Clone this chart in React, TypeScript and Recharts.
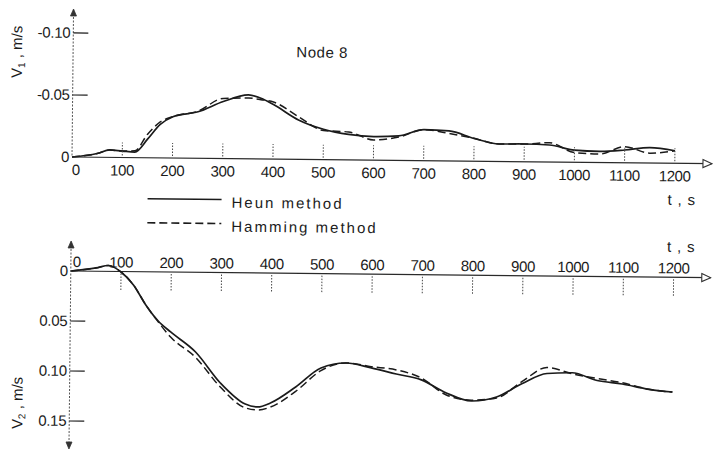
import React from 'react';
import { LineChart, Line, XAxis, YAxis, ReferenceLine, ReferenceDot, Legend } from 'recharts';

// time, s
const times = [0, 50, 75, 100, 125, 150, 175, 200, 250, 300, 350, 375, 400, 450, 500, 550, 600, 650, 700, 750, 800, 850, 900, 950, 1000, 1050, 1100, 1150, 1200];
// V1, m/s (Node 8)
const heunV1 = [0, -0.003, -0.006, -0.0052, -0.0045, -0.015, -0.027, -0.0333, -0.0375, -0.046, -0.0515, -0.049, -0.044, -0.0318, -0.0245, -0.0205, -0.019, -0.0198, -0.025, -0.0242, -0.0184, -0.0141, -0.0143, -0.0137, -0.0098, -0.009, -0.0103, -0.0125, -0.0101];
const hammingV1 = [0, -0.003, -0.006, -0.0052, -0.0055, -0.019, -0.029, -0.0334, -0.038, -0.0485, -0.049, -0.0478, -0.046, -0.0344, -0.0235, -0.0225, -0.0163, -0.0188, -0.025, -0.0222, -0.0184, -0.0141, -0.0143, -0.0155, -0.0078, -0.0068, -0.013, -0.008, -0.0101];
// V2, m/s
const heunV2 = [0, -0.0033, -0.0059, 0.0005, 0.0133, 0.0332, 0.0491, 0.0599, 0.0797, 0.1104, 0.1312, 0.134, 0.1299, 0.1136, 0.0944, 0.0891, 0.0938, 0.0996, 0.1052, 0.118, 0.1258, 0.1215, 0.108, 0.0975, 0.0965, 0.104, 0.1072, 0.112, 0.1147];
const hammingV2 = [0, -0.0033, -0.0059, 0.0005, 0.0133, 0.0332, 0.05, 0.065, 0.085, 0.1145, 0.135, 0.137, 0.134, 0.118, 0.097, 0.089, 0.0925, 0.0955, 0.1033, 0.12, 0.125, 0.1225, 0.106, 0.0915, 0.0975, 0.102, 0.106, 0.112, 0.1147];

const timeTicks = [0, 100, 200, 300, 400, 500, 600, 700, 800, 900, 1000, 1100, 1200];
const v1Ticks = [-0.1, -0.05, 0];
const v1TickLabels = ['-0.10', '-0.05', '0'];
const v2Ticks = [0, 0.05, 0.1, 0.15];
const v2TickLabels = ['0', '0.05', '0.10', '0.15'];
const seriesNames = ['Heun method', 'Hamming method'];
const seriesDashed = [false, true];
const titleText = 'Node 8';
const timeAxisTitle = 't , s';

const topData = times.map((t, i) => ({ t, heun: heunV1[i], hamming: hammingV1[i] }));
const bottomData = times.map((t, i) => ({ t, heun: heunV2[i], hamming: hammingV2[i] }));

const FONT = '"Liberation Sans", Arial, sans-serif';
const INK = '#1b1b1b';
const T_MAX = 1274;
const V1_TOP = -0.1185;
const V2_TOP = -0.029;
const V2_BOTTOM = 0.177;
const DASH = '8 4';

const TopXTick = (props: any) => {
  const { x, y, payload } = props;
  const v = payload.value;
  return (
    <g>
      {v !== 0 && (
        <line x1={x} x2={x} y1={y - 2} y2={y - 15} stroke="#444" strokeWidth={1} strokeDasharray="1.5 1.5" />
      )}
      <text x={v === 0 ? x + 4 : x} y={y + 18} textAnchor="middle" fontFamily={FONT} fontSize={15} letterSpacing={-0.4} fill={INK}>
        {v}
      </text>
    </g>
  );
};

const makeYTick = (ticks: number[], labels: string[]) => (props: any) => {
  const { x, y, payload } = props;
  const idx = ticks.indexOf(payload.value);
  const label = idx >= 0 ? labels[idx] : String(payload.value);
  return (
    <g>
      {payload.value !== 0 && <line x1={x} x2={x + 15} y1={y} y2={y} stroke={INK} strokeWidth={1.2} />}
      <text x={x - 3} y={y + 5} textAnchor="end" fontFamily={FONT} fontSize={15} letterSpacing={-0.3} fill={INK}>
        {label}
      </text>
    </g>
  );
};

const TopYTick = makeYTick(v1Ticks, v1TickLabels);
const BottomYTick = makeYTick(v2Ticks, v2TickLabels);

const BottomXTick = ({ cx, cy, value }: any) => (
  <g>
    {value !== 0 && (
      <line x1={cx} x2={cx} y1={cy + 2} y2={cy + 19} stroke="#444" strokeWidth={1} strokeDasharray="1.5 1.5" />
    )}
    <text x={value === 0 ? cx + 6 : cx} y={cy - 4} textAnchor="middle" fontFamily={FONT} fontSize={15} letterSpacing={-0.4} fill={INK}>
      {value}
    </text>
  </g>
);

const UpArrow = ({ cx, cy }: any) => (
  <path d={`M${cx - 3},${cy + 6} L${cx},${cy - 1} L${cx + 3},${cy + 6} Z`} fill="#333" stroke="#333" strokeWidth={0.8} />
);
const DownArrow = ({ cx, cy }: any) => (
  <path d={`M${cx - 3},${cy - 6} L${cx},${cy + 1} L${cx + 3},${cy - 6} Z`} fill="#333" stroke="#333" strokeWidth={0.8} />
);
const RightArrow = ({ cx, cy }: any) => (
  <path d={`M${cx - 9},${cy - 4} L${cx},${cy} L${cx - 9},${cy + 4} Z`} fill="#fff" stroke="#333" strokeWidth={1.1} />
);

const LegendContent = (props: any) => {
  const payload: any[] = props.payload || [];
  const ordered = seriesNames
    .map((name) => payload.find((e: any) => e && e.value === name))
    .filter(Boolean);
  return (
    <svg width={260} height={50} style={{ display: 'block', overflow: 'visible' }}>
      {ordered.map((e: any, i: number) => {
        const y = 13 + i * 24;
        const dashed = seriesDashed[seriesNames.indexOf(e.value)];
        return (
          <g key={e.value}>
            <line x1={0} x2={74} y1={y} y2={y} stroke={INK} strokeWidth={1.6} strokeDasharray={dashed ? DASH : undefined} />
            <text x={84} y={y + 8} fontFamily={FONT} fontSize={15} letterSpacing={2} fill={INK}>
              {e.value}
            </text>
          </g>
        );
      })}
    </svg>
  );
};

export default function App() {
  return (
    <div
      style={{
        position: 'absolute',
        left: 0,
        top: 0,
        width: 713,
        height: 456,
        background: '#fff',
        transform: 'rotate(0.6deg)',
        transformOrigin: '72px 157px',
        fontFamily: FONT,
      }}
    >
      <div style={{ position: 'absolute', left: 0, top: 0 }}>
        <LineChart width={713} height={185} data={topData} margin={{ top: 10, right: 1, left: 0, bottom: 0 }}>
          <XAxis
            dataKey="t"
            type="number"
            domain={[0, T_MAX]}
            ticks={timeTicks}
            interval={0}
            height={28}
            tickSize={0}
            tickMargin={0}
            tickLine={false}
            axisLine={{ stroke: '#2a2a2a', strokeWidth: 1.2 }}
            tick={(p: any) => <TopXTick {...p} />}
          />
          <YAxis
            type="number"
            domain={[V1_TOP, 0]}
            reversed
            ticks={v1Ticks}
            interval={0}
            width={72}
            tickSize={0}
            tickMargin={0}
            tickLine={false}
            axisLine={{ stroke: '#555', strokeWidth: 1, strokeDasharray: '2 1.5' }}
            tick={(p: any) => <TopYTick {...p} />}
          />
          <ReferenceDot x={0} y={V1_TOP} r={0} ifOverflow="visible" shape={(p: any) => <UpArrow cx={p.cx} cy={p.cy} />} />
          <ReferenceDot x={T_MAX} y={0} r={0} ifOverflow="visible" shape={(p: any) => <RightArrow cx={p.cx} cy={p.cy} />} />
          <Line
            dataKey="heun"
            name={seriesNames[0]}
            type="monotone"
            stroke={INK}
            strokeWidth={1.7}
            dot={false}
            activeDot={false}
            isAnimationActive={false}
          />
          <Line
            dataKey="hamming"
            name={seriesNames[1]}
            type="monotone"
            stroke={INK}
            strokeWidth={1.5}
            strokeDasharray={DASH}
            dot={false}
            activeDot={false}
            isAnimationActive={false}
          />
        </LineChart>
      </div>

      <div style={{ position: 'absolute', left: 0, top: 185 }}>
        <LineChart width={713} height={271} data={bottomData} margin={{ top: 57, right: 1, left: 0, bottom: 8 }}>
          <XAxis dataKey="t" type="number" domain={[0, T_MAX]} hide />
          <YAxis
            type="number"
            domain={[V2_TOP, V2_BOTTOM]}
            reversed
            ticks={v2Ticks}
            interval={0}
            width={72}
            tickSize={0}
            tickMargin={0}
            tickLine={false}
            axisLine={{ stroke: '#555', strokeWidth: 1, strokeDasharray: '2 1.5' }}
            tick={(p: any) => <BottomYTick {...p} />}
          />
          <ReferenceLine y={0} stroke="#2a2a2a" strokeWidth={1.2} ifOverflow="visible" />
          {timeTicks.map((t) => (
            <ReferenceDot
              key={t}
              x={t}
              y={0}
              r={0}
              ifOverflow="visible"
              shape={(p: any) => <BottomXTick cx={p.cx} cy={p.cy} value={t} />}
            />
          ))}
          <ReferenceDot x={0} y={V2_TOP} r={0} ifOverflow="visible" shape={(p: any) => <UpArrow cx={p.cx} cy={p.cy} />} />
          <ReferenceDot x={0} y={V2_BOTTOM} r={0} ifOverflow="visible" shape={(p: any) => <DownArrow cx={p.cx} cy={p.cy} />} />
          <ReferenceDot x={T_MAX} y={0} r={0} ifOverflow="visible" shape={(p: any) => <RightArrow cx={p.cx} cy={p.cy} />} />
          <Line
            dataKey="heun"
            name={seriesNames[0]}
            type="monotone"
            stroke={INK}
            strokeWidth={1.7}
            dot={false}
            activeDot={false}
            isAnimationActive={false}
          />
          <Line
            dataKey="hamming"
            name={seriesNames[1]}
            type="monotone"
            stroke={INK}
            strokeWidth={1.5}
            strokeDasharray={DASH}
            dot={false}
            activeDot={false}
            isAnimationActive={false}
          />
          <Legend
            layout="horizontal"
            verticalAlign="middle"
            align="center"
            content={(p: any) => <LegendContent {...p} />}
            wrapperStyle={{ position: 'absolute', left: 148, top: 0, width: 260, height: 50 }}
          />
        </LineChart>
      </div>

      <svg width={713} height={456} style={{ position: 'absolute', left: 0, top: 0, pointerEvents: 'none' }}>
        <text x={321} y={55} textAnchor="middle" fontFamily={FONT} fontSize={15} letterSpacing={0.5} fill={INK}>
          {titleText}
        </text>
        <text x={668} y={198.5} fontFamily={FONT} fontSize={15} letterSpacing={0.8} fill={INK}>
          {timeAxisTitle}
        </text>
        <text x={668} y={245.5} fontFamily={FONT} fontSize={15} letterSpacing={0.8} fill={INK}>
          {timeAxisTitle}
        </text>
        <g transform="translate(21,52.5) rotate(-90)">
          <text x={0} y={0} textAnchor="middle" fontFamily={FONT} fontSize={15} fill={INK}>
            V<tspan fontSize={10} dy={3}>1</tspan>
            <tspan dy={-3}> , m/s</tspan>
          </text>
        </g>
        <g transform="translate(25,403.5) rotate(-90)">
          <text x={0} y={0} textAnchor="middle" fontFamily={FONT} fontSize={15} fill={INK}>
            V<tspan fontSize={10} dy={3}>2</tspan>
            <tspan dy={-3}> , m/s</tspan>
          </text>
        </g>
      </svg>
    </div>
  );
}
